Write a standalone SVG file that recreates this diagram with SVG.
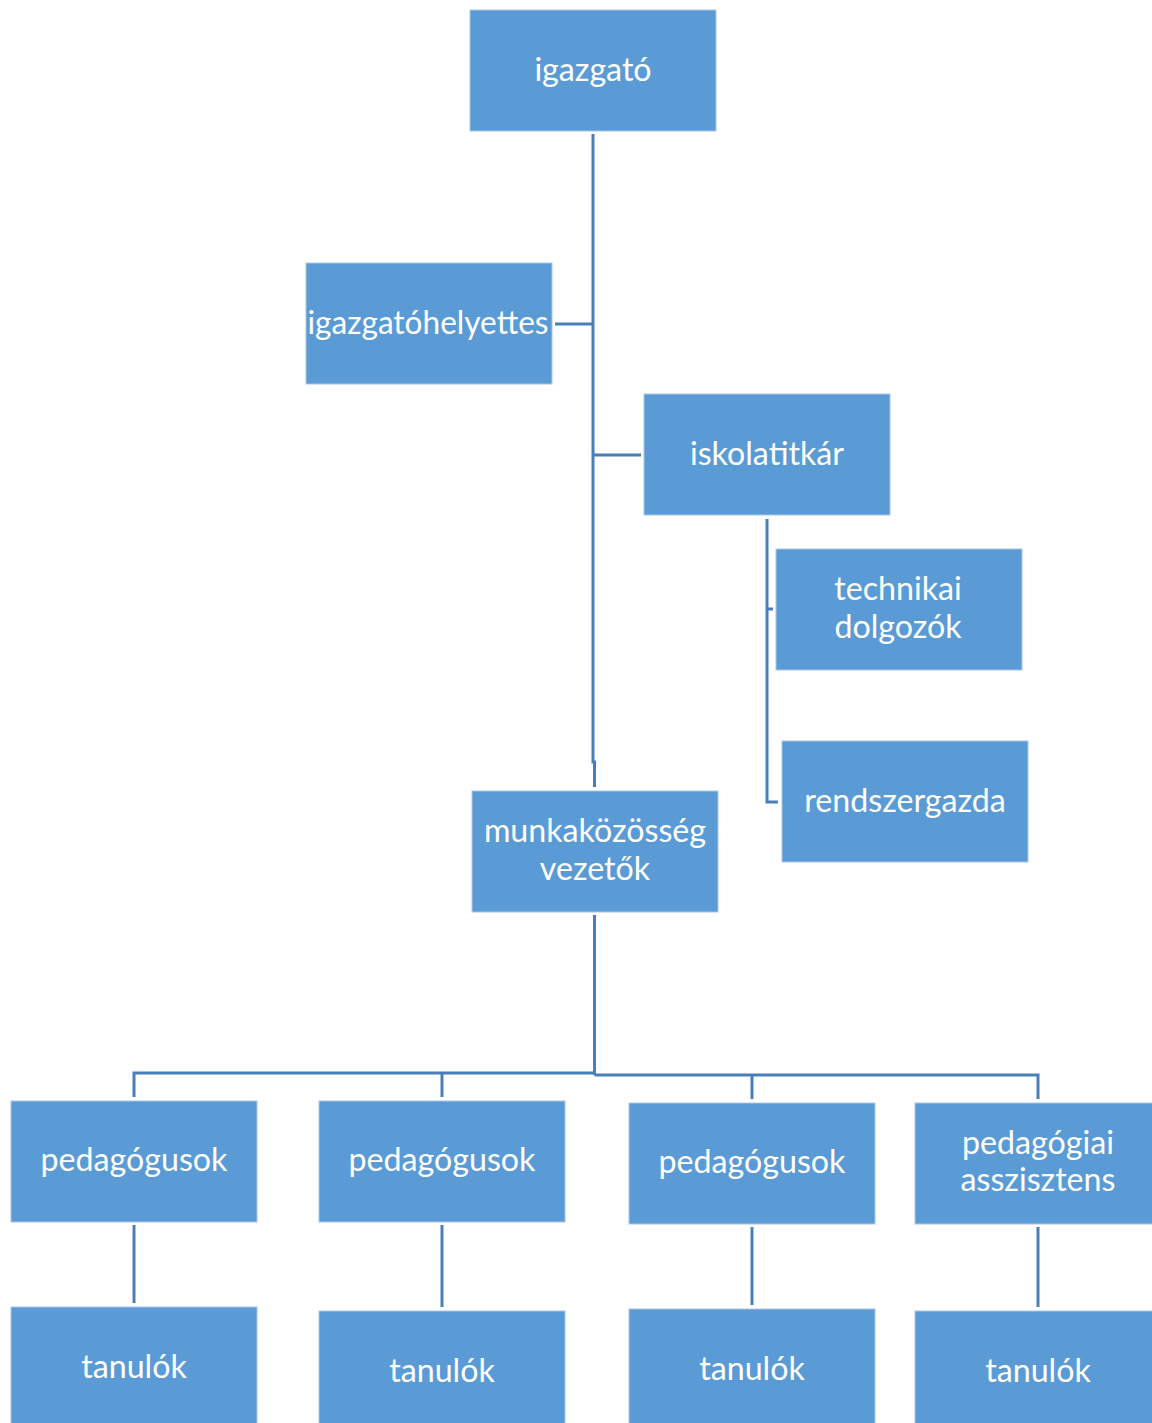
<svg xmlns="http://www.w3.org/2000/svg" width="1152" height="1423" viewBox="0 0 1152 1423">
<style>
.box{fill:#5B9BD5;stroke:#A9C8E8;stroke-width:1}
.lbl{font-family:Lato,"Open Sans","Liberation Sans",sans-serif;font-size:32.2px;fill:#FFFFFF;text-anchor:middle}
.con{fill:none;stroke:#4A7EBB;stroke-width:3}
</style>
<rect width="1152" height="1423" fill="#FFFFFF"/>
<g id="connectors">
<path class="con" d="M593 134 V762 H594.5 V787"/>
<path class="con" d="M555 324 H593"/>
<path class="con" d="M593 455 H641"/>
<path class="con" d="M767 519 V802 H778"/>
<path class="con" d="M767 609 H773"/>
<path class="con" d="M594.5 915 V1075"/>
<path class="con" d="M594.5 1073 H134 V1097"/>
<path class="con" d="M442 1073 V1097"/>
<path class="con" d="M594.5 1075 H1038 V1099"/>
<path class="con" d="M752 1075 V1099"/>
<path class="con" d="M134 1225 V1303"/>
<path class="con" d="M442 1225 V1307"/>
<path class="con" d="M752 1227 V1305"/>
<path class="con" d="M1038 1227 V1307"/>
</g>
<g id="igazgato"><rect class="box" x="470" y="10" width="246" height="121"/><text class="lbl" x="593" y="81">igazgató</text></g>
<g id="igazgatohelyettes"><rect class="box" x="306" y="263" width="246" height="121"/><text class="lbl" x="428" y="334" textLength="241" lengthAdjust="spacingAndGlyphs">igazgatóhelyettes</text></g>
<g id="iskolatitkar"><rect class="box" x="644" y="394" width="246" height="121"/><text class="lbl" x="767" y="465">iskolatitkár</text></g>
<g id="technikai"><rect class="box" x="776" y="549" width="246" height="121"/><text class="lbl" x="898" y="600">technikai</text><text class="lbl" x="898" y="638">dolgozók</text></g>
<g id="rendszergazda"><rect class="box" x="782" y="741" width="246" height="121"/><text class="lbl" x="905" y="812">rendszergazda</text></g>
<g id="munkakozosseg"><rect class="box" x="472" y="791" width="246" height="121"/><text class="lbl" x="595" y="842">munkaközösség</text><text class="lbl" x="595" y="880">vezetők</text></g>
<g id="ped1"><rect class="box" x="11" y="1101" width="246" height="121"/><text class="lbl" x="134" y="1171">pedagógusok</text></g>
<g id="ped2"><rect class="box" x="319" y="1101" width="246" height="121"/><text class="lbl" x="442" y="1171">pedagógusok</text></g>
<g id="ped3"><rect class="box" x="629" y="1103" width="246" height="121"/><text class="lbl" x="752" y="1173">pedagógusok</text></g>
<g id="asszisztens"><rect class="box" x="915" y="1103" width="246" height="121"/><text class="lbl" x="1038" y="1154">pedagógiai</text><text class="lbl" x="1038" y="1191">asszisztens</text></g>
<g id="tan1"><rect class="box" x="11" y="1307" width="246" height="121"/><text class="lbl" x="134" y="1378">tanulók</text></g>
<g id="tan2"><rect class="box" x="319" y="1311" width="246" height="121"/><text class="lbl" x="442" y="1382">tanulók</text></g>
<g id="tan3"><rect class="box" x="629" y="1309" width="246" height="121"/><text class="lbl" x="752" y="1380">tanulók</text></g>
<g id="tan4"><rect class="box" x="915" y="1311" width="246" height="121"/><text class="lbl" x="1038" y="1382">tanulók</text></g>
</svg>
